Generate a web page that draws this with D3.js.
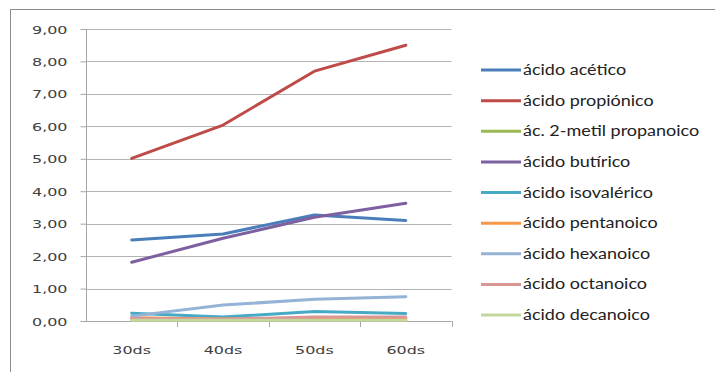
<!DOCTYPE html>
<html><head><meta charset="utf-8">
<script src="https://cdn.jsdelivr.net/npm/d3@7"></script>
<style>body{margin:0;background:#fff}svg{display:block}</style>
</head><body>
<svg id="c" width="715" height="372"></svg>
<script>
const categories = ["30ds","40ds","50ds","60ds"];
const seriesNames = ["ácido acético","ácido propiónico","ác. 2-metil propanoico","ácido butírico","ácido isovalérico","ácido pentanoico","ácido hexanoico","ácido octanoico","ácido decanoico"];
const acetico     = [2.50, 2.68, 3.27, 3.10];
const propionico  = [5.01, 6.04, 7.70, 8.50];
const metilprop   = [0.04, 0.03, 0.04, 0.04];
const butirico    = [1.81, 2.55, 3.20, 3.63];
const isovalerico = [0.24, 0.12, 0.29, 0.23];
const pentanoico  = [0.10, 0.06, 0.07, 0.08];
const hexanoico   = [0.15, 0.49, 0.67, 0.75];
const octanoico   = [0.08, 0.06, 0.12, 0.12];
const decanoico   = [0.02, 0.02, 0.02, 0.02];
const seriesValues = [acetico, propionico, metilprop, butirico, isovalerico, pentanoico, hexanoico, octanoico, decanoico];
const colors = ["#4A7EBB","#BE4B48","#98B954","#7D60A0","#46AAC5","#F79646","#95B3D7","#D99694","#C3D69B"];
const yTicks = [0,1,2,3,4,5,6,7,8,9];
const fmt = v => v.toFixed(2).replace(".", ",");

const svg = d3.select("#c");
svg.append("rect").attr("x",10.5).attr("y",9.5).attr("width",720).attr("height",380)
  .attr("fill","none").attr("stroke","#8c8c8c").attr("stroke-width",1);

const L = 86, R = 451.5, T = 29, B = 321;
const x = d3.scaleBand().domain(categories).range([L, R]);
const y = d3.scaleLinear().domain([0, 9]).range([B, T]);

// gridlines
svg.append("g").selectAll("line").data(yTicks.filter(d=>d>0)).join("line")
  .attr("x1", L).attr("x2", R).attr("y1", d=>Math.round(y(d))+0.5).attr("y2", d=>Math.round(y(d))+0.5)
  .attr("stroke","#b3b3b3").attr("stroke-width",1);

// y axis
const ya = svg.append("g").attr("transform",`translate(${L+0.5},0)`)
  .call(d3.axisLeft(y).tickValues(yTicks).tickFormat(fmt).tickSize(6).tickPadding(0));
ya.select(".domain").attr("stroke","#a6a6a6").attr("d",`M0,${T}V${B}`);
ya.selectAll(".tick line").attr("stroke","#a6a6a6");
ya.selectAll(".tick text").attr("x",null).attr("dy",null).attr("text-anchor","end")
  .attr("font-family","DejaVu Sans").attr("font-size",11).attr("fill","#404040")
  .attr("transform","translate(-19,4) scale(1.45,1)");

// x axis
const xa = svg.append("g").attr("transform",`translate(0,${B+0.5})`)
  .call(d3.axisBottom(x).tickSize(0).tickPadding(0));
xa.select(".domain").attr("stroke","#a6a6a6").attr("d",`M${L},0H${R}`);
xa.selectAll(".tick text").attr("y",null).attr("dy",null).attr("text-anchor","middle")
  .attr("font-family","DejaVu Sans").attr("font-size",11).attr("fill","#404040")
  .attr("transform","translate(0,32) scale(1.45,1)");
// category separator ticks
svg.append("g").selectAll("line").data(categories.slice(1).concat(["end"])).join("line")
  .attr("x1", (d,i)=> Math.round(i<3 ? x(d) : R)+0.5).attr("x2",(d,i)=> Math.round(i<3 ? x(d) : R)+0.5)
  .attr("y1", B).attr("y2", B+6).attr("stroke","#a6a6a6");

// lines
const line = d3.line().x((d,i)=>x(categories[i])+x.bandwidth()/2).y(d=>y(d));
svg.append("g").selectAll("path").data(seriesValues).join("path")
  .attr("d", d=>line(d)).attr("fill","none")
  .attr("stroke",(d,i)=>colors[i]).attr("stroke-width",3)
  .attr("stroke-linejoin","round").attr("stroke-linecap","round");

// legend
const lg = svg.append("g");
const ly = d3.scalePoint().domain(seriesNames).range([70, 315]);
seriesNames.forEach((n,i)=>{
  lg.append("line").attr("x1",481).attr("x2",521).attr("y1",ly(n)).attr("y2",ly(n))
    .attr("stroke",colors[i]).attr("stroke-width",3);
  lg.append("text").attr("transform",`translate(523,${ly(n)+5}) scale(1.2,1)`)
    .attr("font-family","Lato").attr("font-size",15).attr("fill","#222").text(n);
});
</script>
</body></html>
